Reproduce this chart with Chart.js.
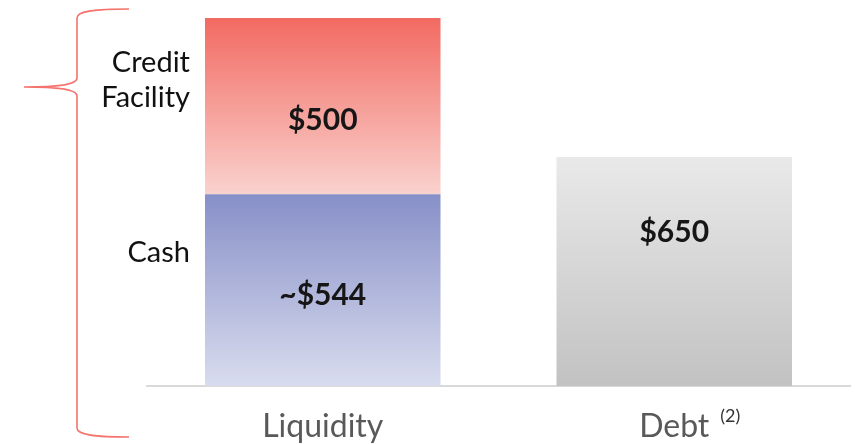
<!DOCTYPE html>
<html><head><meta charset="utf-8">
<script src="https://cdn.jsdelivr.net/npm/chart.js@4/dist/chart.umd.min.js"></script>
<style>html,body{margin:0;padding:0;background:#fff}#wrap{width:859px;height:444px}</style>
</head><body><div id="wrap"><canvas id="c" width="859" height="444"></canvas></div>
<script>
const categories = ['Liquidity', 'Debt'];
const cashValues = [544, null];
const creditValues = [500, null];
const debtValues = [null, 650];
const cashLabels = ['~$544', null];
const creditLabels = ['$500', null];
const debtLabels = [null, '$650'];
const sideLabels = [['Credit', 'Facility'], ['Cash']];
const superscripts = ['', '(2)'];

function grad(ctx, c1, c2) {
  const chart = ctx.chart;
  const y = chart.scales.y;
  if (!y || !chart.chartArea) return c1;
  const i = ctx.dataIndex;
  let base = 0;
  for (let d = 0; d < ctx.datasetIndex; d++) {
    const v = chart.data.datasets[d].data[i];
    if (v) base += v;
  }
  const v = chart.data.datasets[ctx.datasetIndex].data[i] || 0;
  const yt = y.getPixelForValue(base + v), yb = y.getPixelForValue(base);
  const g = chart.ctx.createLinearGradient(0, yt, 0, yb);
  g.addColorStop(0, c1); g.addColorStop(1, c2);
  return g;
}

const labelPlugin = {
  id: 'labels',
  afterDatasetsDraw(chart) {
    const c = chart.ctx;
    c.save();
    c.fillStyle = '#161616';
    c.font = 'bold 30px Lato';
    c.textAlign = 'center';
    c.textBaseline = 'middle';
    const sets = [[0, cashLabels, 5], [1, creditLabels, 14]];
    sets.forEach(([di, labels, off]) => {
      const meta = chart.getDatasetMeta(di);
      meta.data.forEach((el, i) => {
        if (!labels[i]) return;
        c.fillText(labels[i], el.x, (el.y + el.base) / 2 + off);
      });
    });
    const dm = chart.getDatasetMeta(2);
    dm.data.forEach((el, i) => {
      if (!debtLabels[i]) return;
      c.fillText(debtLabels[i], el.x, el.y + 75);
    });
    // side labels
    c.fillStyle = '#111';
    c.font = '29px Lato';
    c.textAlign = 'right';
    const m1 = chart.getDatasetMeta(1).data[0];
    const m0 = chart.getDatasetMeta(0).data[0];
    c.fillText(sideLabels[0][0], 190, m1.y + 45);
    c.fillText(sideLabels[0][1], 190, m1.y + 80);
    c.fillText(sideLabels[1][0], 190, m0.y + 58);
    // superscripts on x labels
    const xs = chart.scales.x;
    c.fillStyle = '#333';
    c.font = '18px Lato';
    c.textAlign = 'left';
    superscripts.forEach((s, i) => {
      if (!s) return;
      c.fillText(s, xs.getPixelForValue(i) + 46, xs.bottom - 28);
    });
    // brace
    c.strokeStyle = '#f4736c';
    c.lineWidth = 1.6;
    c.beginPath();
    c.moveTo(129, 9);
    c.bezierCurveTo(95, 9, 77, 11, 77, 18);
    c.lineTo(77, 78);
    c.bezierCurveTo(77, 86, 50, 87, 24, 87);
    c.bezierCurveTo(50, 87, 77, 88, 77, 96);
    c.lineTo(77, 428);
    c.bezierCurveTo(77, 435, 95, 437, 129, 437);
    c.stroke();
    c.restore();
  }
};

new Chart(document.getElementById('c'), {
  type: 'bar',
  data: {
    labels: categories,
    datasets: [
      { label: 'Cash', data: cashValues,
        backgroundColor: ctx => grad(ctx, '#8790c8', '#d9dcee') },
      { label: 'Credit Facility', data: creditValues,
        backgroundColor: ctx => grad(ctx, '#f26a62', '#fad2ce') },
      { label: 'Debt', data: debtValues,
        backgroundColor: ctx => grad(ctx, '#e9e9e9', '#c2c2c2') }
    ]
  },
  options: {
    responsive: false,
    animation: false,
    events: [],
    layout: { padding: { left: 147, right: 9, top: 16, bottom: 0 } },
    plugins: { legend: { display: false }, tooltip: { enabled: false } },
    datasets: { bar: { categoryPercentage: 1, barPercentage: 0.67, borderWidth: 0 } },
    scales: {
      x: {
        stacked: true,
        grid: { display: false, drawTicks: false },
        border: { display: true, color: '#d9d9d9', width: 2 },
        ticks: { color: '#595959', font: { family: 'Lato', size: 32 }, padding: 21 },
        afterFit: s => { s.height = 58; }
      },
      y: {
        stacked: true, display: false, min: 0, max: 1050
      }
    }
  },
  plugins: [labelPlugin]
});
</script></body></html>
